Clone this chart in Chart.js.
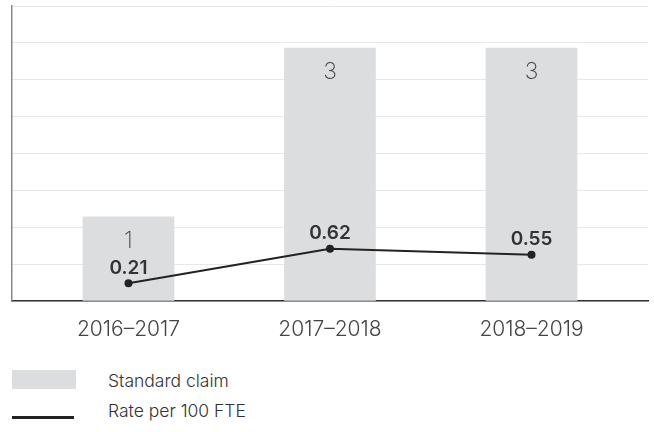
<!DOCTYPE html>
<html>
<head>
<meta charset="utf-8">
<script src="https://cdn.jsdelivr.net/npm/chart.js@4"></script>
<style>
  html, body { margin: 0; padding: 0; background: #fff; }
  #wrap { position: relative; width: 654px; height: 432px; }
  #c { position: absolute; left: 0; top: 0; }
  .lg { position: absolute; left: 108px; font: 300 17.5px Inter, sans-serif; color: #333; }
  .sw { position: absolute; left: 12px; }
</style>
</head>
<body>
<div id="wrap">
  <canvas id="c" width="654" height="345"></canvas>
  <div class="sw" style="top:370px;width:64px;height:19px;background:#dcdddf"></div>
  <div class="lg" style="top:370px">Standard claim</div>
  <div class="sw" style="top:416px;width:62px;height:3px;background:#222"></div>
  <div class="lg" style="top:400px">Rate per 100 FTE</div>
</div>
<script>
// data
const categories = ['2016\u20132017', '2017\u20132018', '2018\u20132019'];
const claims = [1, 3, 3];
const rates = [0.21, 0.62, 0.55];

// value labels: counts inside bars, rates above points
const valueLabels = {
  id: 'valueLabels',
  afterDatasetsDraw(chart) {
    const ctx = chart.ctx;
    ctx.save();
    ctx.textAlign = 'center';
    ctx.textBaseline = 'middle';
    ctx.fillStyle = '#444';
    ctx.font = '200 23px Inter, sans-serif';
    chart.getDatasetMeta(0).data.forEach((bar, i) => {
      ctx.fillText(String(claims[i]), bar.x, bar.y + 24);
    });
    ctx.fillStyle = '#333';
    ctx.font = '600 19px Inter, sans-serif';
    chart.getDatasetMeta(1).data.forEach((pt, i) => {
      ctx.fillText(rates[i].toFixed(2), pt.x, pt.y - 15);
    });
    ctx.restore();
  }
};

new Chart(document.getElementById('c'), {
  type: 'bar',
  data: {
    datasets: [{
      label: 'Standard claim',
      data: categories.map((c, i) => ({ x: i, y: claims[i] })),
      backgroundColor: '#dcdddf',
      barThickness: 91,
      order: 2
    }, {
      type: 'line',
      label: 'Rate per 100 FTE',
      data: categories.map((c, i) => ({ x: i, y: rates[i] })),
      borderColor: '#222',
      backgroundColor: '#222',
      borderWidth: 2,
      pointRadius: 3,
      tension: 0,
      order: 1
    }]
  },
  options: {
    responsive: false,
    animation: false,
    layout: { padding: { left: 12, right: 6, top: 4, bottom: 0 } },
    plugins: { legend: { display: false }, tooltip: { enabled: false } },
    scales: {
      x: {
        type: 'linear',
        offset: false,
        min: -0.578,
        max: 2.578,
        afterBuildTicks: s => { s.ticks = categories.map((c, i) => ({ value: i })); },
        afterFit: s => { s.height = 44; },
        grid: { display: false, drawTicks: false },
        border: { color: '#333', width: 1.5 },
        ticks: {
          padding: 16,
          color: '#444',
          font: { family: 'Inter, sans-serif', size: 21, weight: 300 },
          callback: v => categories[v] ?? ''
        }
      },
      y: {
        min: 0,
        max: 3.5,
        afterFit: s => { s.width = 0; },
        ticks: { display: false, stepSize: 0.4375 },
        grid: { color: '#e8e8e8', lineWidth: 1, drawTicks: false },
        border: { color: '#888', width: 1.5 }
      }
    }
  },
  plugins: [valueLabels]
});
</script>
</body>
</html>
